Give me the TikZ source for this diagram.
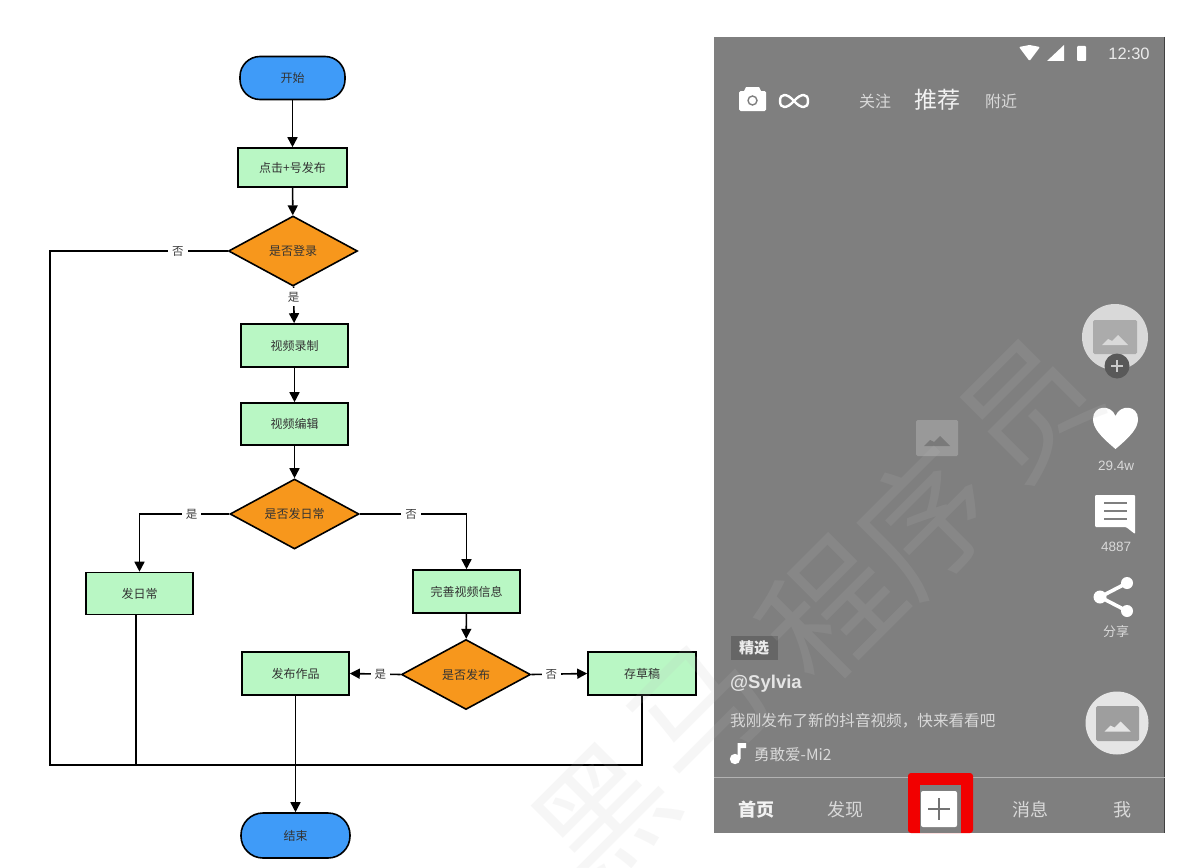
\documentclass[tikz,border=0pt]{standalone}
\usepackage{fontspec}
\setmainfont{Noto Sans CJK SC}
\newfontfamily\latinfont{Liberation Sans}
\usetikzlibrary{positioning}
\usetikzlibrary{arrows.meta}
\usetikzlibrary{shapes.geometric}
\newcommand{\setfs}[1]{\fontsize{#1}{#1}\selectfont}
\definecolor{termblue}{HTML}{3F9BF8}
\definecolor{procgreen}{HTML}{B9F7C4}
\definecolor{askorange}{HTML}{F7971C}
\definecolor{screengray}{HTML}{7F7F7F}
\begin{document}
\begin{tikzpicture}[x=1pt,y=-1pt]
        \tikzstyle{terminal}=[draw=black,fill=termblue,line width=1.6pt,rounded corners=20pt,
            minimum width=105pt,minimum height=43pt,inner sep=0pt,font=\setfs{12},text=black!80]
        \tikzstyle{process}=[draw=black,fill=procgreen,line width=1.6pt,
            minimum width=107pt,minimum height=42pt,inner sep=0pt,font=\setfs{12},text=black!80]
        \tikzstyle{decision}=[diamond,draw=black,fill=askorange,line width=1.6pt,aspect=1.85,
            minimum width=129pt,minimum height=70pt,inner sep=0pt,font=\setfs{12},text=black!80]
        \tikzstyle{flow}=[line width=1.6pt,-{Triangle[length=10pt,width=10pt]}]
        \tikzstyle{plain}=[line width=1.6pt]
        \tikzstyle{edgelabel}=[fill=white,inner sep=4pt,font=\setfs{11.5},text=black!75]
        \tikzstyle{onscreen}=[inner sep=0pt,text=white!85!black]
        \tikzstyle{whiteicon}=[fill=white,draw=none]

        \useasboundingbox (0,0) rectangle (1190,867);
        \fill[white] (0,0) rectangle (1190,867);

        % flow chart
        \node[terminal] (start) at (292.5,78) {开始};
        \node[process, minimum width=109pt, minimum height=39pt] (publish) at (292.5,167.5) {点击+号发布};
        \node[decision] (login) at (293,251) {是否登录};
        \node[process, minimum height=43pt] (record) at (294.5,345.5) {视频录制};
        \node[process] (edit) at (294.5,424) {视频编辑};
        \node[decision] (dailyq) at (294.5,514) {是否发日常};
        \node[process] (daily) at (139.5,593.5) {发日常};
        \node[process, minimum height=43pt] (info) at (466.5,591.5) {完善视频信息};
        \node[decision] (sendq) at (466,674.5) {是否发布};
        \node[process, minimum height=43pt] (work) at (295.5,673.5) {发布作品};
        \node[process, minimum width=108pt, minimum height=43pt] (draft) at (642,673.5) {存草稿};
        \node[terminal, minimum width=109pt, minimum height=45pt, rounded corners=22pt] (end) at (295.5,835.5) {结束};

        \coordinate (busl) at (50,765);
        \coordinate (busd) at (136,765);

        \draw[flow] (start) -- (publish);
        \draw[flow] (publish) -- (login);
        \draw[flow] (login) -- node[edgelabel, pos=.29] (yes1) {是} (record);
        \draw[flow] (record) -- (edit);
        \draw[flow] (edit) -- (dailyq);
        \draw[flow] (dailyq.west) -| node[edgelabel, pos=.21] (yes2) {是} (daily.north);
        \draw[flow] (dailyq.east) -| node[edgelabel, pos=.24] (no2) {否} (info.north);
        \draw[flow] (info) -- (sendq);
        \draw[flow] (sendq.west) -- node[edgelabel, pos=.4] (yes3) {是} (work.east);
        \draw[flow] (sendq.east) -- node[edgelabel, pos=.36] (no3) {否} (draft.west);
        \draw[flow] (work.south) -- (end.north);
        \draw[plain] (login.west) -| node[edgelabel, pos=.14] (no1) {否} (busl) -| (draft.south);
        \draw[plain] (busd |- daily.south) -- (busd);

        % phone screen
        \fill[screengray] (714,37) rectangle (1165,833);
        \draw[black!75, line width=.8pt] (1164.6,37) -- (1164.6,833);

        % status bar
        \fill[whiteicon, rounded corners=1pt] (1019,47) -- (1029.5,45) -- (1040,47) -- (1029.5,61) -- cycle;
        \fill[whiteicon] (1047,61) -- (1064,61) -- (1064,45) -- cycle;
        \fill[whiteicon, rounded corners=1pt] (1077,46) rectangle (1086,61);
        \node[onscreen, font=\latinfont\setfs{16.5}, text=white!92!black] (clock) at (1129,54) {12:30};

        % top bar
        \fill[whiteicon, rounded corners=1.5pt] (739,91) rectangle (766,111);
        \fill[whiteicon] (744,91) -- (746,87) -- (759,87) -- (761,91) -- cycle;
        \draw[screengray, line width=1.4pt] (752.5,100.5) circle (4.5);
        \draw[white, line width=2.4pt] (794,101) .. controls (787,93) and (780,93) .. (780,101)
            .. controls (780,109) and (787,109) .. (794,101)
            .. controls (801,93) and (808,93) .. (808,101)
            .. controls (808,109) and (801,109) .. (794,101);
        \node[onscreen, font=\setfs{16}] (follow) at (875,101) {关注};
        \node[onscreen, font=\setfs{23}, text=white!95!black] (recommend) at (937,100) {推荐};
        \node[onscreen, font=\setfs{16}] (nearby) at (1001,101) {附近};

        % round covers and picture placeholders
        \fill[black!15] (1115,337) circle (33);
        \fill[black!10] (1117,723) circle (31.5);
        \foreach \px/\py/\w/\h/\shade/\peak in {1115/337/44/34/33/15, 937/438/42/36/40/52, 1117.5/723.5/43/35/38/10}
        {
            \fill[black!\shade, rounded corners=1.5pt] (\px-\w/2,\py-\h/2) rectangle (\px+\w/2,\py+\h/2);
            \fill[black!\peak] (\px-13,\py+8) -- (\px-7,\py+2) -- (\px-3,\py+4) -- (\px+3,\py-2)
                -- (\px+13,\py+8) -- cycle;
        }
        \fill[black!65] (1117,366) circle (12.5);
        \draw[white!80!black, line width=1.8pt] (1111,366) -- (1123,366) (1117,360) -- (1117,372);

        % heart, comment, share
        \fill[whiteicon] (1115.5,449) .. controls (1100,436) and (1093,428) .. (1093,419)
            .. controls (1093,405) and (1111,404) .. (1115.5,416)
            .. controls (1120,404) and (1138,405) .. (1138,419)
            .. controls (1138,428) and (1131,436) .. (1115.5,449) -- cycle;
        \node[onscreen, font=\latinfont\setfs{13.5}] (likes) at (1116,466) {29.4w};
        \fill[whiteicon, rounded corners=1pt] (1095,495) -- (1135,495) -- (1135,534) -- (1126,527) -- (1095,527) -- cycle;
        \foreach \ly in {503,511,519}
            \draw[screengray, line width=2.6pt] (1104,\ly) -- (1127,\ly);
        \node[onscreen, font=\latinfont\setfs{13.5}] (comments) at (1116,547) {4887};
        \draw[white, line width=3.6pt] (1127,583) -- (1100,597) -- (1127,611);
        \fill[whiteicon] (1127,583) circle (6) (1100,597) circle (6.5) (1127,611) circle (6);
        \node[onscreen, font=\setfs{13}] (share) at (1116,632) {分享};

        % caption block
        \fill[black!60] (731,636) rectangle (778,660);
        \node[onscreen, font=\bfseries\setfs{15}, text=white!92!black] (tag) at (754,648) {精选};
        \node[onscreen, anchor=west, font=\latinfont\bfseries\setfs{18.5}, text=white!90!black] (user) at (730,684) {@Sylvia};
        \node[onscreen, anchor=west, font=\setfs{15.6}] (caption) at (730,721) {我刚发布了新的抖音视频，快来看看吧};
        \fill[whiteicon] (735,759) circle (5.2);
        \fill[whiteicon] (737.5,759) -- (737.5,743) -- (746,743) -- (746,748) -- (740.5,748) -- (740.5,759) -- cycle;
        \node[onscreen, anchor=west, font=\setfs{15.5}] (music) at (754,755) {勇敢爱-Mi2};

        % bottom bar
        \draw[black!30, line width=1pt] (714,777.5) -- (1165,777.5);
        \fill[red!95!black, rounded corners=3pt] (908,773) -- (973,773) -- (973,833) -- (908,833) -- cycle;
        \fill[screengray] (920,785) rectangle (961,833);
        \fill[whiteicon, rounded corners=2pt] (921,791) rectangle (957,827);
        \draw[black!55, line width=2.6pt] (928,809) -- (950,809) (939,798) -- (939,820);
        \node[onscreen, font=\bfseries\setfs{18}, text=white!95!black] (home) at (756,810) {首页};
        \node[onscreen, font=\setfs{18}] (discover) at (845,810) {发现};
        \node[onscreen, font=\setfs{18}] (message) at (1030,810) {消息};
        \node[onscreen, font=\setfs{18}] (mine) at (1122,810) {我};

        % watermark on top of everything
        \foreach \mx/\my/\mark/\i in {605/815/黑/0, 700/712/马/1, 830/610/程/2, 925/520/序/3, 1030/410/员/4}
        {
            \node[rotate=45, text=black!25, opacity=.13, inner sep=0pt, font=\setfs{132}] (mark\i) at (\mx,\my) {\mark};
        }
\end{tikzpicture}
\end{document}
